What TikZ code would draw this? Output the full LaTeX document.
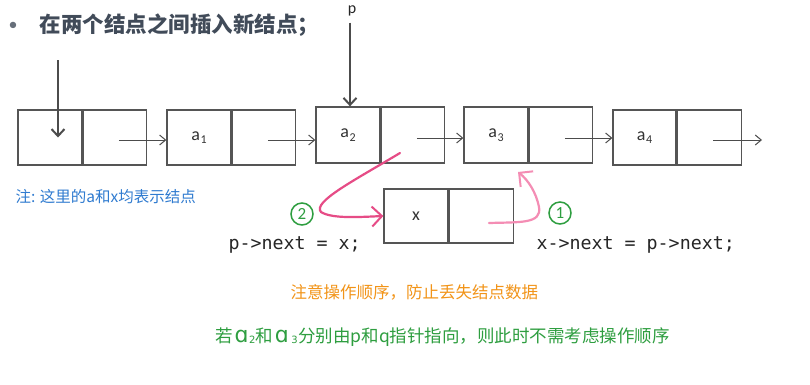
\documentclass[tikz,border=0pt]{standalone}
\usepackage{fontspec}
\usetikzlibrary{arrows.meta}
\setmainfont{Carlito}
\setmonofont{DejaVu Sans Mono}
\newfontfamily\cjk{Noto Sans CJK SC}
\newfontfamily\dejavu{DejaVu Sans}
\definecolor{boxline}{HTML}{555555}
\definecolor{titlegray}{HTML}{414B59}
\definecolor{pinkdark}{HTML}{E64C86}
\definecolor{pinklight}{HTML}{F48DB4}
\definecolor{stepgreen}{HTML}{2E9E40}
\definecolor{noteblue}{HTML}{2F7BD0}
\definecolor{warnorange}{HTML}{F29418}
% element label with a lowered index, e.g. a_1
\newcommand{\elem}[1]{a\kern0.8pt\raisebox{-3.5pt}{\fontsize{12}{12}\selectfont #1}}
% script alpha with a small index for the remark line
\newcommand{\alphaidx}[2]{\kern1.5pt{\dejavu\fontsize{22}{22}\selectfont ɑ}\kern#2\raisebox{-1pt}{\dejavu\fontsize{10}{10}\selectfont #1}\kern0.5pt}
\tikzset{
  field/.style={draw=boxline, line width=1.3pt, minimum height=55, inner sep=0pt,
    font=\fontsize{18}{20}\selectfont, text=black!80},
  ptr/.style={draw=black!70, line width=1pt, -{Straight Barb[length=6,width=10,line width=1pt]}},
  headptr/.style={draw=black!70, line width=1.6pt, -{Straight Barb[length=7,width=13,line width=2pt]}},
  stroke/.style={line width=2.2pt, line cap=round, -{Straight Barb[length=10,width=20,line width=2pt]}},
  stepmark/.style={circle, draw=stepgreen, line width=1.5pt, text=stepgreen, minimum size=22,
    inner sep=0pt, font=\fontsize{17}{17}\selectfont},
  code/.style={font=\ttfamily\fontsize{18.3}{20}\selectfont, text=black!85, anchor=west},
}
\begin{document}
\begin{tikzpicture}[x=1pt,y=-1pt]
\useasboundingbox (0,0) rectangle (810,384);
\fill[white] (0,0) rectangle (810,384);

% heading
\node[anchor=center, text=titlegray!80, font=\fontsize{18}{18}\selectfont] (bullet) at (13,26) {•};
\node[anchor=west, text=titlegray, font=\cjk\bfseries\fontsize{21.5}{24}\selectfont] (title) at (36,25) {在两个结点之间插入新结点；};

% list cells: data field + next field
\node[field, minimum width=64] (n0d) at (50,137.5) {};
\node[field, minimum width=63, anchor=west] (n0n) at (n0d.east) {};
\node[field, minimum width=64] (a1d) at (199,137.5) {\elem{1}};
\node[field, minimum width=63, anchor=west] (a1n) at (a1d.east) {};
\node[field, minimum width=64, minimum height=56] (a2d) at (348,135) {\elem{2}};
\node[field, minimum width=63, minimum height=56, anchor=west] (a2n) at (a2d.east) {};
\node[field, minimum width=64, minimum height=56] (a3d) at (496,135) {\elem{3}};
\node[field, minimum width=63, minimum height=56, anchor=west] (a3n) at (a3d.east) {};
\node[field, minimum width=63] (a4d) at (644.5,137.5) {\elem{4}};
\node[field, minimum width=64, anchor=west] (a4n) at (a4d.east) {};

% new cell x
\node[field, minimum width=64, minimum height=54] (xd) at (416,216) {x};
\node[field, minimum width=64, minimum height=54, anchor=west] (xn) at (xd.east) {};

% next links
\draw[ptr] ([xshift=4,yshift=-2.5]n0n.center) -- ([yshift=-2.5]n0n.center -| a1d.west);
\draw[ptr] ([xshift=4,yshift=-2.5]a1n.center) -- ([yshift=-2.5]a1n.center -| a2d.west);
\draw[ptr] ([xshift=4,yshift=-3]a2n.center) -- ([yshift=-3]a2n.center -| a3d.west);
\draw[ptr] ([xshift=4,yshift=-3]a3n.center) -- ([yshift=-3]a3n.center -| a4d.west);
\coordinate (tail) at (762,140);
\draw[ptr] ([xshift=4]a4n.center |- tail) -- (tail);

% head pointer and p
\coordinate (headtop) at (58,60);
\draw[headptr] (headtop) -- (headtop |- n0d.center);
\node[font=\fontsize{16}{16}\selectfont, text=black!85] (plabel) at (352,11) {p};
\draw[headptr] ([xshift=-2,yshift=-3]plabel.south) -- ([xshift=-2]plabel.south |- a2d.north);

% note
\node[anchor=west, text=noteblue, font=\cjk\fontsize{15.5}{18}\selectfont] (note) at (12,197) {注: 这里的{\itshape a}和{\itshape x}均表示结点};

% step 2: p->next = x
\coordinate (s2) at (400,153);
\draw[stroke, pinkdark] (s2) .. controls (355,180) and (312,202) .. (321,212)
  .. controls (332,219) and (360,217) .. (xd.west);
\node[stepmark] (c2) at (302,214) {2};
\node[code] (code2) at (225,245) {p->next = x;};

% step 1: x->next = p->next
\coordinate (s1) at (489,223);
\coordinate (s1tip) at (518,172);
\draw[stroke, pinklight] (s1) .. controls (520,222) and (542,224) .. (539,207)
  .. controls (536,192) and (528,180) .. (s1tip);
\node[stepmark] (c1) at (560,213) {1};
\node[code] (code1) at (533,245) {x->next = p->next;};

% remarks
\node[anchor=west, text=warnorange, font=\cjk\fontsize{16.5}{20}\selectfont] (warn) at (287,292) {注意操作顺序，防止丢失结点数据};
\node[anchor=west, text=stepgreen, font=\cjk\fontsize{17.5}{20}\selectfont] (remark) at (212,337)
  {若\alphaidx{2}{0.5pt}和\alphaidx{3}{2.5pt}分别由p和q指针指向，则此时不需考虑操作顺序};
\end{tikzpicture}
\end{document}
